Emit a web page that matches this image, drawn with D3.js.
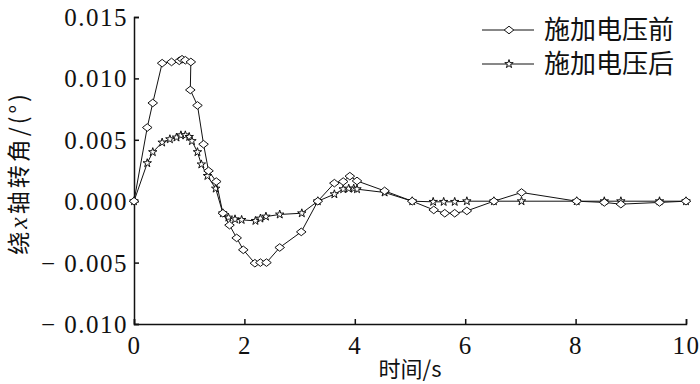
<!doctype html>
<html lang="zh">
<head>
<meta charset="UTF-8">
<title>绕x轴转角</title>
<script src="https://cdn.jsdelivr.net/npm/d3@7"></script>
<style>
  body { margin: 0; background: #fff; }
  text { fill: #111; }
</style>
</head>
<body>
<div class="canvas"></div>
<script>
  // 施加电压前 (diamonds)
  const beforeT = [0, 0.24, 0.34, 0.51, 0.68, 0.82, 0.87, 0.93, 1.03, 1.02, 1.15, 1.26, 1.35, 1.49, 1.61,
    1.73, 1.86, 1.98, 2.19, 2.29, 2.40, 2.64, 3.03, 3.33, 3.63, 3.79, 3.91, 4.04, 4.54, 5.04,
    5.43, 5.63, 5.81, 6.03, 6.52, 7.02, 8.02, 8.52, 8.82, 9.52, 10];
  const beforeV = [0, 0.0060, 0.0080, 0.01124, 0.01134, 0.01143, 0.01156, 0.01148, 0.01134, 0.00906, 0.0078, 0.00464, 0.00247, 0.0016, -0.00098,
    -0.00195, -0.00299, -0.00396, -0.00505, -0.0050, -0.0050, -0.00377, -0.0025, 0, 0.00147, 0.0016, 0.00204, 0.00165, 0.00084, 0,
    -0.00071, -0.00098, -0.00098, -0.00079, 0, 0.00071, 0, -0.0001, -0.00024, -0.0001, 0];

  // 施加电压后 (stars)
  const afterT = [0, 0.24, 0.34, 0.51, 0.65, 0.77, 0.85, 0.93, 1.0, 1.05, 1.15, 1.22, 1.33, 1.48, 1.61,
    1.71, 1.83, 1.95, 2.2, 2.29, 2.39, 2.64, 3.04, 3.33, 3.63, 3.79, 3.89, 3.98, 4.04, 4.54,
    5.04, 5.42, 5.61, 5.81, 6.03, 6.52, 7.02, 8.02, 8.52, 8.82, 9.52, 10];
  const afterV = [0, 0.0031, 0.0040, 0.00478, 0.00505, 0.00519, 0.00537, 0.00537, 0.00524, 0.0049, 0.0040, 0.0030, 0.00206, 0.00103, -0.00098,
    -0.00133, -0.00147, -0.00152, -0.0016, -0.00141, -0.00125, -0.00108, -0.00098, 0, 0.00057, 0.00098, 0.00103, 0.00103, 0.00098, 0.00071,
    0, -0.00005, -0.00005, -0.00005, 0, 0, 0, 0, 0, 0, 0, 0];

  const xTicks = [0, 2, 4, 6, 8, 10];
  const yTicks = [-0.010, -0.005, 0.000, 0.005, 0.010, 0.015];
  const seriesNames = ['施加电压前', '施加电压后'];

  const width = 700, height = 384;
  const svg = d3.select('.canvas').append('svg')
    .attr('width', width)
    .attr('height', height);

  const x = d3.scaleLinear().domain([0, 10]).range([134, 686]);
  const y = d3.scaleLinear().domain([-0.010, 0.015]).range([324, 17]);

  const serif = "'Liberation Serif', 'Times New Roman', Tinos, 'DejaVu Serif', serif";
  const cjk = "'Noto Sans CJK SC', sans-serif";

  // axes (ticks pointing inward)
  const xAxis = d3.axisBottom(x).tickValues(xTicks).tickSize(-5).tickPadding(12)
    .tickFormat(d3.format('d'));
  const yAxis = d3.axisLeft(y).tickValues(yTicks).tickSize(-5).tickPadding(6)
    .tickFormat(d => (d < 0 ? '− ' : '') + d3.format('.3f')(Math.abs(d)));

  const xAxisG = svg.append('g').attr('transform', `translate(0, ${y(-0.010)})`).call(xAxis);
  const yAxisG = svg.append('g').attr('transform', `translate(${x(0)}, 0)`).call(yAxis);

  [xAxisG, yAxisG].forEach(g => {
    g.attr('font-family', serif).attr('font-size', 25);
    g.select('.domain').attr('stroke', '#111').attr('stroke-width', 1.5);
    g.selectAll('.tick line').attr('stroke', '#111').attr('stroke-width', 1.5);
    g.selectAll('text')
      .attr('font-family', serif)
      .attr('font-size', 25)
      .attr('letter-spacing', 1.5)
      .attr('fill', '#111');
  });
  xAxisG.selectAll('text').attr('dy', '0.72em');
  yAxisG.selectAll('text').attr('dy', '0.34em');

  // axis titles
  svg.append('text')
    .attr('x', x(5))
    .attr('y', 377)
    .attr('text-anchor', 'middle')
    .attr('font-family', cjk)
    .attr('font-size', 22)
    .text('时间/s');

  const yl = svg.append('text')
    .attr('transform', 'translate(27, 173) rotate(-90)')
    .attr('text-anchor', 'middle')
    .attr('font-family', cjk)
    .attr('font-size', 23)
    .attr('letter-spacing', 3);
  yl.append('tspan').text('绕');
  yl.append('tspan').text('x').attr('font-family', serif).attr('font-style', 'italic').attr('font-size', 26);
  yl.append('tspan').text('轴转角/(°)');

  // markers
  const diamond = 'M0,-3.8L4.8,0L0,3.8L-4.8,0Z';
  const star = d3.symbol().type(d3.symbolStar).size(22)();

  const line = d3.line().x(d => x(d[0])).y(d => y(d[1]));

  const before = beforeT.map((t, i) => [t, beforeV[i]]);
  const after = afterT.map((t, i) => [t, afterV[i]]);

  function drawSeries(data, shape) {
    svg.append('path')
      .datum(data)
      .attr('fill', 'none')
      .attr('stroke', '#111')
      .attr('stroke-width', 1)
      .attr('d', line);
    svg.append('g').selectAll('path')
      .data(data)
      .enter()
      .append('path')
      .attr('d', shape)
      .attr('transform', d => `translate(${x(d[0])}, ${y(d[1])})`)
      .attr('fill', '#fff')
      .attr('stroke', '#111')
      .attr('stroke-width', 1);
  }

  drawSeries(after, star);
  drawSeries(before, diamond);

  // legend
  const legend = svg.append('g');
  [[diamond, 30], [star, 64]].forEach(([shape, ly], i) => {
    legend.append('line')
      .attr('x1', 482).attr('x2', 534)
      .attr('y1', ly).attr('y2', ly)
      .attr('stroke', '#111').attr('stroke-width', 1);
    legend.append('path')
      .attr('d', shape)
      .attr('transform', `translate(509, ${ly})`)
      .attr('fill', '#fff').attr('stroke', '#111');
    legend.append('text')
      .attr('x', 544)
      .attr('y', ly)
      .attr('dy', '0.36em')
      .attr('font-family', cjk)
      .attr('font-size', 26)
      .text(seriesNames[i]);
  });
</script>
</body>
</html>
